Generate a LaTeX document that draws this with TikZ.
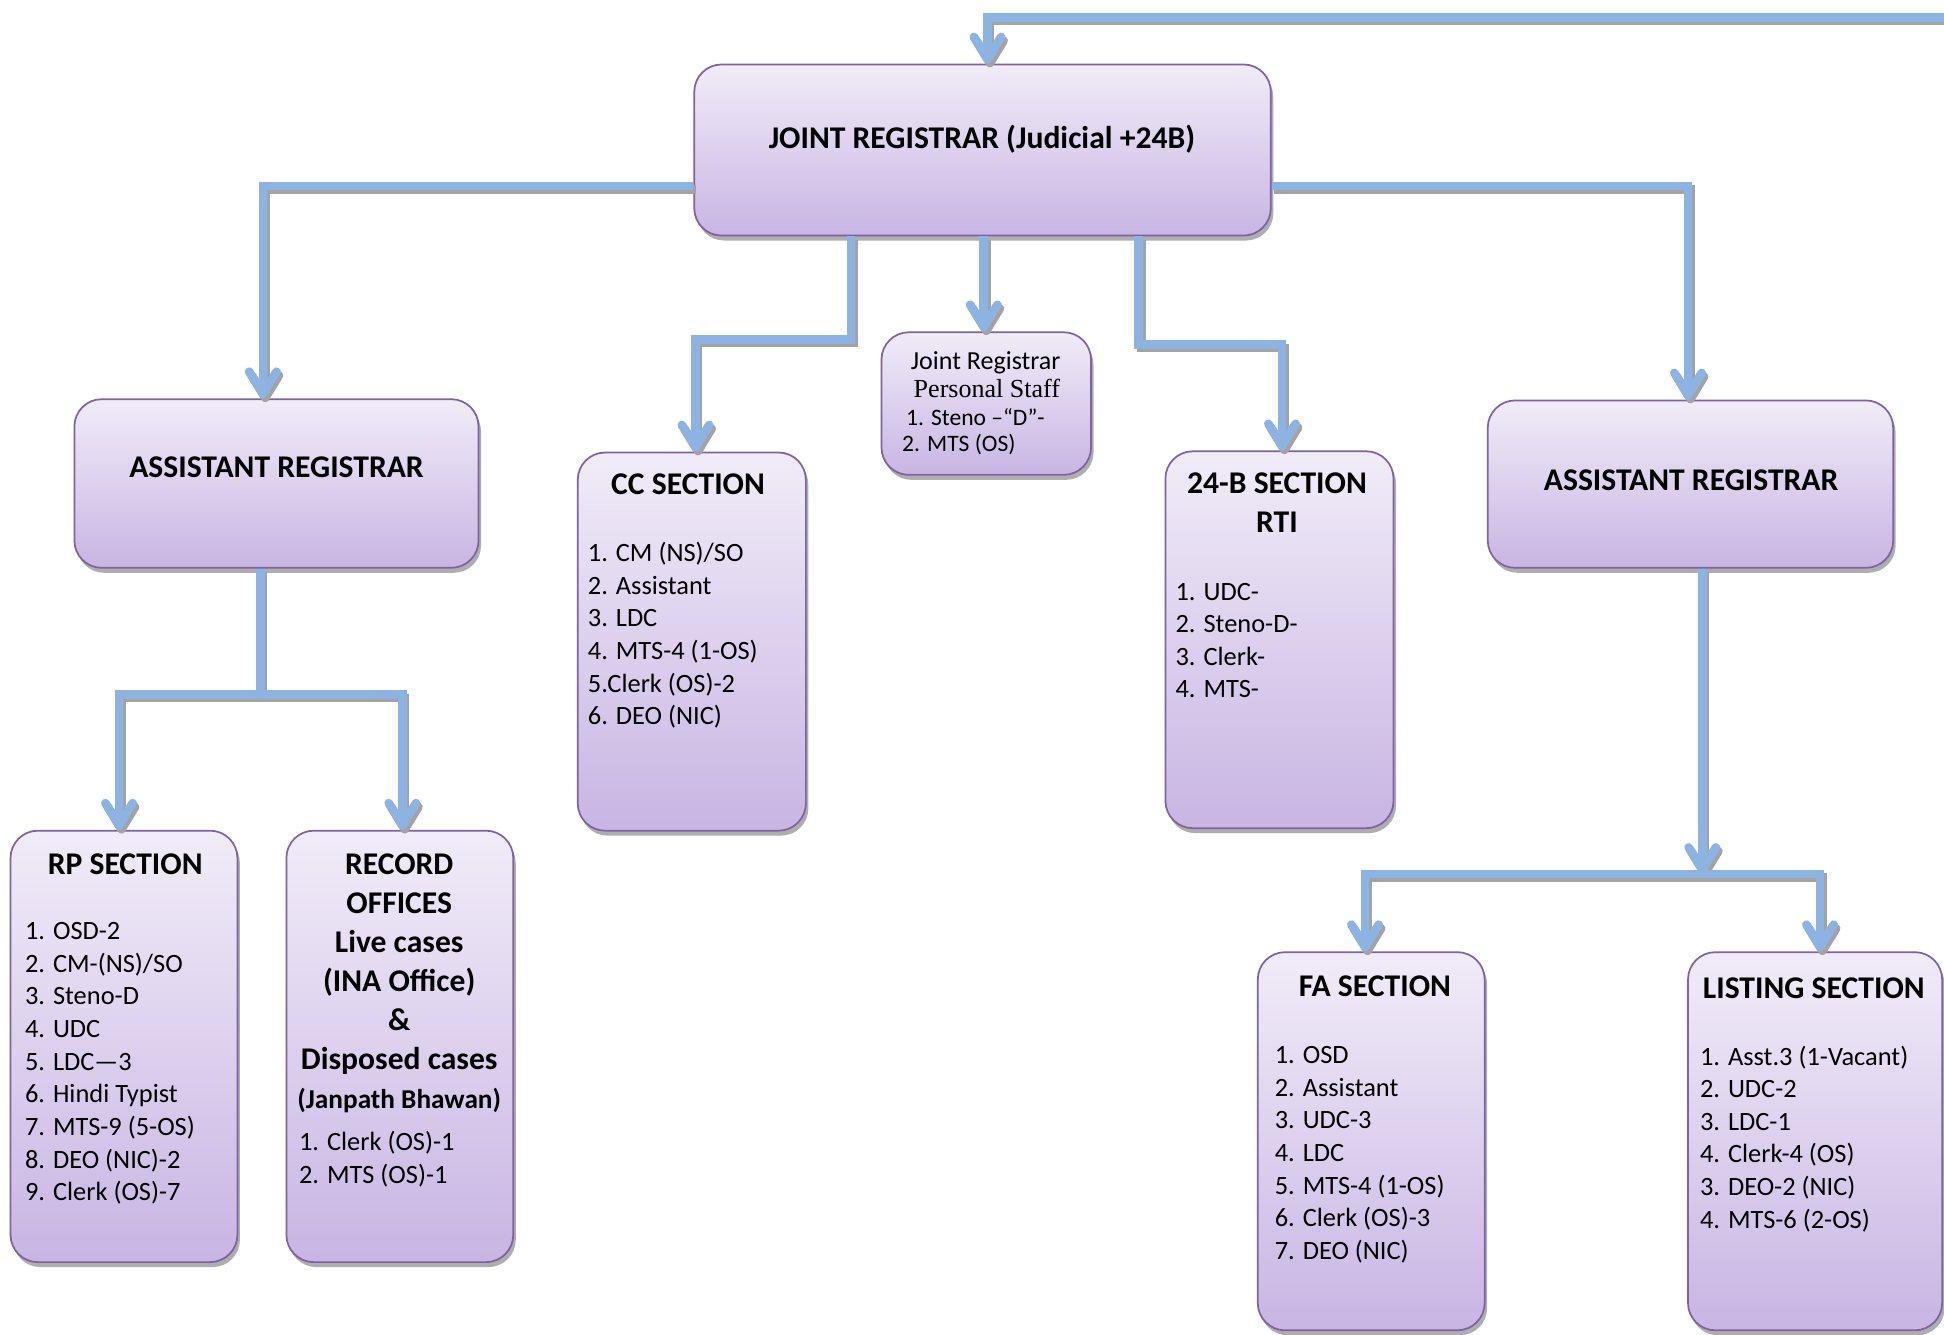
\documentclass[tikz,border=0pt]{standalone}
\usepackage{fontspec}
\setmainfont{Carlito}
\newfontfamily\serifpart{Liberation Serif}
\usetikzlibrary{arrows.meta,shadows,calc}
\definecolor{lineblue}{HTML}{8DB3E2}
\definecolor{lineshadow}{HTML}{A3A3A3}
\definecolor{boxedge}{HTML}{7E63A3}
\definecolor{boxtop}{HTML}{F1ECF8}
\definecolor{boxbot}{HTML}{C8B5E3}
\tikzset{
  orgbox/.style={rounded corners=22pt, draw=boxedge, line width=1.4pt,
    top color=boxtop, bottom color=boxbot, inner sep=0pt,
    drop shadow={shadow xshift=2pt, shadow yshift=-4pt, fill=black!45, opacity=0.7}},
  conn/.style={draw=lineblue, line width=7pt},
  connsh/.style={draw=lineshadow, line width=7pt, transform canvas={shift={(2pt,-3pt)}}},
  tipv/.style={-{Straight Barb[length=18pt,width=22pt,round]}},
  ttl/.style={font=\fontsize{25.5}{31.5}\selectfont\bfseries, inner sep=0pt, align=center, anchor=base},
  itm/.style={font=\fontsize{21.3}{26.3}\selectfont, inner sep=0pt, align=left, anchor=base west},
}
\newcommand\myconn[2][]{\path[connsh,#1] #2; \path[conn,#1] #2;}
\begin{document}
\begin{tikzpicture}[x=1pt,y=-1pt]
\useasboundingbox (0,0) rectangle (1568,1076);

% boxes
\node[orgbox, minimum width=465pt, minimum height=138pt] (jr)  at (792.5,121) {};
\node[orgbox, minimum width=326pt, minimum height=136pt] (ar1) at (223,390) {};
\node[orgbox, minimum width=184pt, minimum height=305pt] (cc)  at (558,517.5) {};
\node[orgbox, minimum width=169pt, minimum height=115pt] (ps)  at (795.5,325.5) {};
\node[orgbox, minimum width=184pt, minimum height=304pt] (b24) at (1032,516) {};
\node[orgbox, minimum width=327pt, minimum height=135pt] (ar2) at (1363.5,390.5) {};
\node[orgbox, minimum width=183pt, minimum height=348pt] (rp)  at (100,844) {};
\node[orgbox, minimum width=183pt, minimum height=348pt] (ro)  at (322.5,844) {};
\node[orgbox, minimum width=183pt, minimum height=305pt] (fa)  at (1106,920.5) {};
\node[orgbox, minimum width=205pt, minimum height=305pt] (ls)  at (1464,920.5) {};

% titles (multi-line nodes: base = last line)
\node[ttl] (tjr)  at (792,120) {JOINT REGISTRAR (Judicial +24B)};
\node[ttl] (tar1) at (223,385) {ASSISTANT REGISTRAR};
\node[ttl] (tar2) at (1364,396) {ASSISTANT REGISTRAR};
\node[ttl] (tcc)  at (555,399) {CC SECTION};
\node[ttl] (tb24) at (1030,429.5) {24-B SECTION\\RTI};
\node[ttl] (trp)  at (101,705) {RP SECTION};
\node[ttl] (tro)  at (322,894) {RECORD\\OFFICES\\Live cases\\(INA Office)\\\&\\Disposed cases\\{\fontsize{22}{31.5}\selectfont(Janpath Bhawan)}};
\node[ttl] (tfa)  at (1109,804) {FA SECTION};
\node[ttl] (tls)  at (1463,805) {LISTING SECTION};

% personal staff
\node[font=\fontsize{21}{23}\selectfont, inner sep=0pt, anchor=base] (ps1) at (795,298) {Joint Registrar};
\node[font=\fontsize{21}{23}\selectfont\serifpart, inner sep=0pt, anchor=base] (ps2) at (796,321) {Personal Staff};
\node[font=\fontsize{19}{21.5}\selectfont, inner sep=0pt, align=left, anchor=base west] (ps3) at (727.5,364.5) {\,1. Steno –“D”-\\2. MTS (OS)};

% items (base = last line)
\node[itm] (irp) at (20,968.4) {1. OSD-2\\2. CM-(NS)/SO\\3. Steno-D\\4. UDC\\5. LDC—3\\6. Hindi Typist\\7. MTS-9 (5-OS)\\8. DEO (NIC)-2\\9. Clerk (OS)-7};
\node[itm] (iro) at (241,954.3) {1. Clerk (OS)-1\\2. MTS (OS)-1};
\node[itm] (icc) at (474,584.5) {1. CM (NS)/SO\\2. Assistant\\3. LDC\\4. MTS-4 (1-OS)\\5.Clerk (OS)-2\\6. DEO (NIC)};
\node[itm] (ib24) at (948,562.9) {1. UDC-\\2. Steno-D-\\3. Clerk-\\4. MTS-};
\node[itm] (ifa) at (1028,1015.8) {1. OSD\\2. Assistant\\3. UDC-3\\4. LDC\\5. MTS-4 (1-OS)\\6. Clerk (OS)-3\\7. DEO (NIC)};
\node[itm] (ils) at (1371,990.5) {1. Asst.3 (1-Vacant)\\2. UDC-2\\3. LDC-1\\4. Clerk-4 (OS)\\3. DEO-2 (NIC)\\4. MTS-6 (2-OS)};

% junctions
\coordinate (topR) at (1568,14);
\coordinate (j1) at (210,560);
\coordinate (j2) at (1373,705);

% connectors
\myconn[tipv]{(topR) -| ([xshift=4pt]jr.north)}
\myconn[tipv]{([yshift=-29pt]jr.west) -| ([xshift=-11pt]ar1.north)}
\myconn[tipv]{([yshift=-29pt]jr.east) -| ([xshift=-2pt]ar2.north)}
\myconn[tipv]{([xshift=-106pt]jr.south) -- ++(0,83) -| ([xshift=3pt]cc.north)}
\myconn[tipv]{([xshift=-2pt]ps.north |- jr.south) -- ([xshift=-2pt]ps.north)}
\myconn[tipv]{([xshift=126pt]jr.south) -- ++(0,87) -| ([xshift=2pt]b24.north)}
\myconn{(j1 |- ar1.south) -- (j1)}
\myconn[tipv]{(j1) -| ([xshift=-4pt]rp.north)}
\myconn[tipv]{(j1) -| ([xshift=2pt]ro.north)}
\myconn[tipv]{(j2 |- ar2.south) -- (j2)}
\myconn[tipv]{(j2) -| ([xshift=-5pt]fa.north)}
\myconn[tipv]{(j2) -| ([xshift=4pt]ls.north)}
\end{tikzpicture}
\end{document}
